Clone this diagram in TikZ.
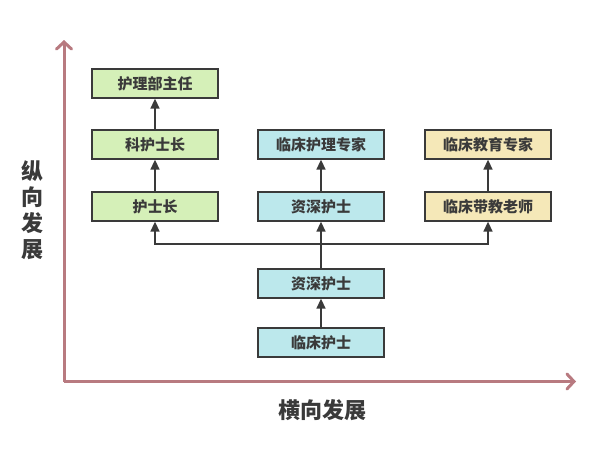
\documentclass[tikz,border=0pt]{standalone}
\usepackage{fontspec}
\newfontfamily\cjk{Noto Sans CJK SC}
\usepackage{tikz}
\usetikzlibrary{arrows.meta}

\definecolor{boxgreen}{HTML}{D5F0B8}
\definecolor{boxcyan}{HTML}{BCE8EC}
\definecolor{boxyellow}{HTML}{F5E8B8}
\definecolor{axisrose}{HTML}{B87A80}
\definecolor{textgray}{HTML}{3A3A3A}

\tikzset{
	post/.style={draw=textgray, line width=1.3pt, minimum width=126pt, minimum height=29pt,
		inner sep=0pt, font=\cjk\bfseries\fontsize{15}{17}\selectfont, text=textgray},
	green/.style={post, fill=boxgreen},
	cyan/.style={post, fill=boxcyan},
	yellow/.style={post, fill=boxyellow},
	link/.style={draw=textgray, line width=1.5pt, -{Triangle[length=10pt,width=9pt]}},
	axis/.style={draw=axisrose, line width=3pt, -{Straight Barb[length=7pt,width=15pt,line cap=round]}},
	axislabel/.style={font=\cjk\bfseries\fontsize{22}{26}\selectfont, text=textgray, inner sep=0pt}
}

\begin{document}
\begin{tikzpicture}[x=1pt,y=-1pt]
	\useasboundingbox (0,0) rectangle (595,455);
	
	%axes
	\coordinate (origin) at (64,381.5);
	\coordinate (ytop) at (64,40);
	\coordinate (xend) at (576,381.5);
	\draw[axis] (origin) -- (ytop);
	\draw[axis] (origin) -- (xend);
	\node[axislabel, align=center] (vlabel) at (32,210) {纵\\向\\发\\展};
	\node[axislabel] (hlabel) at (322,410) {横向发展};
	
	%management line (left)
	\node[green] (director) at (155,83.5) {护理部主任};
	\node[green] (chief) at (155,144.5) {科护士长};
	\node[green] (headnurse) at (155,206.5) {护士长};
	
	%clinical line (middle)
	\node[cyan] (expert) at (321,144.5) {临床护理专家};
	\node[cyan] (senior2) at (321,206.5) {资深护士};
	\node[cyan] (senior1) at (321,283.5) {资深护士};
	\node[cyan] (nurse) at (321,342.5) {临床护士};
	
	%teaching line (right)
	\node[yellow] (eduexpert) at (488,144.5) {临床教育专家};
	\node[yellow] (teacher) at (488,206.5) {临床带教老师};
	
	%links
	\coordinate (fork) at (321,244);
	\draw[link] (nurse) -- (senior1);
	\draw[link] (senior1) -- (senior2);
	\draw[link] (fork) -| (headnurse.south);
	\draw[link] (fork) -| (teacher.south);
	\draw[link] (headnurse) -- (chief);
	\draw[link] (chief) -- (director);
	\draw[link] (senior2) -- (expert);
	\draw[link] (teacher) -- (eduexpert);
\end{tikzpicture}
\end{document}
